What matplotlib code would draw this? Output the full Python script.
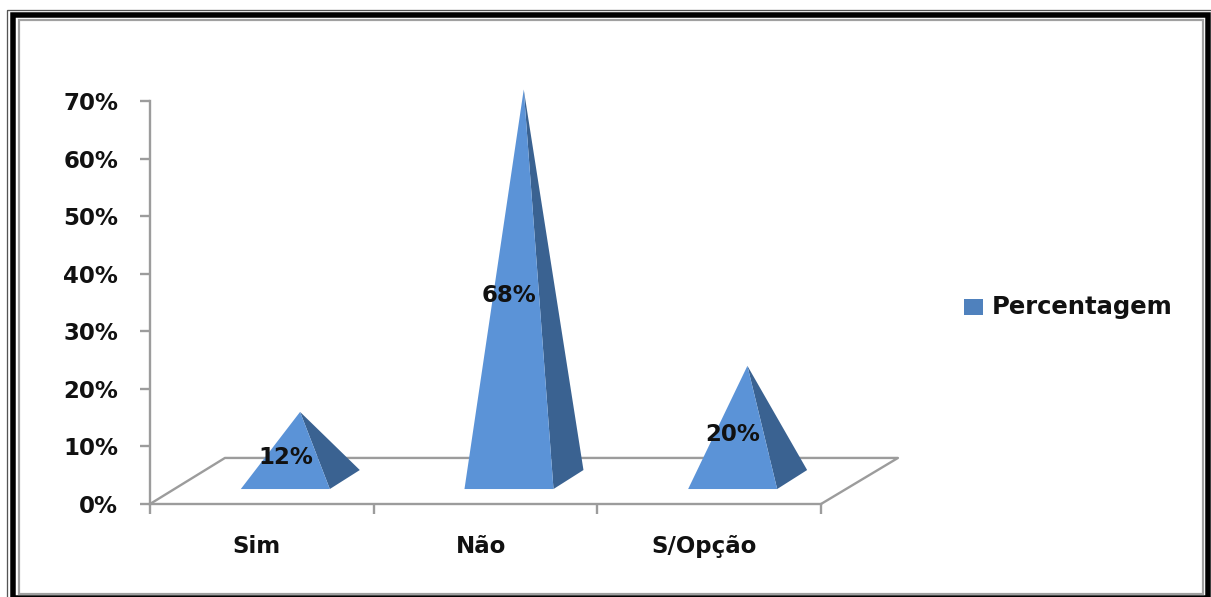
import matplotlib
matplotlib.use("Agg")
import matplotlib.pyplot as plt
from matplotlib.patches import Polygon, Rectangle

categories = ["Sim", "Não", "S/Opção"]
percentages = [12, 68, 20]
value_labels = ["12%", "68%", "20%"]
y_ticks = [0, 10, 20, 30, 40, 50, 60, 70]
series_name = "Percentagem"

W, H = 1211, 597
LIGHT = "#5B93D7"
DARK = "#3A6291"
GREY = "#9C9C9C"
FONT = "DejaVu Sans"
TEXT = "#111111"

fig = plt.figure(figsize=(W / 100, H / 100), dpi=100, facecolor="white")

# Picture frame, drawn in figure pixels
frame = fig.add_axes([0, 0, 1, 1], zorder=0)
frame.set_xlim(0, W)
frame.set_ylim(H, 0)
frame.axis("off")
for (x0, y0, x1, y1), lw_px, col in [((6.5, 9.5, 1213, 603), 1.3, "#555555"),
                                     ((12.8, 15, 1208, 598), 5.5, "black"),
                                     ((18.5, 19.5, 1203, 593.6), 2.2, "#A0A0A0")]:
    frame.add_patch(Rectangle((x0, y0), x1 - x0, y1 - y0, fill=False,
                              ec=col, lw=lw_px * 0.72, clip_on=False))

# Plot area: x in category widths, y in percent
L, R, B, T = 150, 821, 504, 101
ax = fig.add_axes([L / W, 1 - B / H, (R - L) / W, (B - T) / H], zorder=1)
ax.set_xlim(0, 3)
ax.set_ylim(0, 70)
ax.patch.set_alpha(0)
for side in ("top", "right"):
    ax.spines[side].set_visible(False)
for side in ("left", "bottom"):
    ax.spines[side].set_color(GREY)
    ax.spines[side].set_linewidth(1.7)

ax.set_yticks(y_ticks)
ax.set_yticklabels([f"{v}%" for v in y_ticks], fontfamily=FONT,
                   fontweight="bold", fontsize=16.5, color=TEXT)
ax.set_xticks(range(4))
ax.set_xticklabels([])
ax.tick_params(axis="y", length=7, width=1.7, color=GREY, pad=16)
ax.tick_params(axis="x", length=7, width=1.7, color=GREY)

# Floor of the 3D plot
DX, DX_FAR, DY = 0.335, 0.344, 8.0
ax.plot([0, DX, 3 + DX_FAR, 3], [0, DY, DY, 0], color=GREY, lw=1.7,
        clip_on=False, zorder=2)

# Pyramids: front face and shaded side face
HALF = 0.199
BASE_SHIFT = 0.105
BASE_FRONT = 2.6
BASE_BACK = 5.9
SIDE = 0.134
APEX_SHIFT = 0.171
APEX_LIFT = 4.0
for i, (val, lab) in enumerate(zip(percentages, value_labels)):
    c = i + 0.5
    left = c + BASE_SHIFT - HALF
    right = c + BASE_SHIFT + HALF
    apex = (c + APEX_SHIFT, val + APEX_LIFT)
    ax.add_patch(Polygon([(right, BASE_FRONT), (right + SIDE, BASE_BACK), apex],
                         closed=True, fc=DARK, ec="none", clip_on=False, zorder=3))
    ax.add_patch(Polygon([(left, BASE_FRONT), (right, BASE_FRONT), apex],
                         closed=True, fc=LIGHT, ec="none", clip_on=False, zorder=4))
    ax.text(c + BASE_SHIFT, val / 2 + 2.15, lab, ha="center", va="center",
            fontfamily=FONT, fontweight="bold", fontsize=16.5, color=TEXT,
            zorder=5, clip_on=False)
    ax.text(c - 0.022, -7.4, categories[i], ha="center", va="center",
            fontfamily=FONT, fontweight="bold", fontsize=16.5, color=TEXT,
            clip_on=False)

# Legend
frame.add_patch(Rectangle((964, 299), 19, 16, fc="#4F81BD", ec="none"))
frame.text(992, 307, series_name, ha="left", va="center", fontfamily=FONT,
           fontweight="bold", fontsize=17.5, color=TEXT)

fig.savefig("out.png", dpi=100)
